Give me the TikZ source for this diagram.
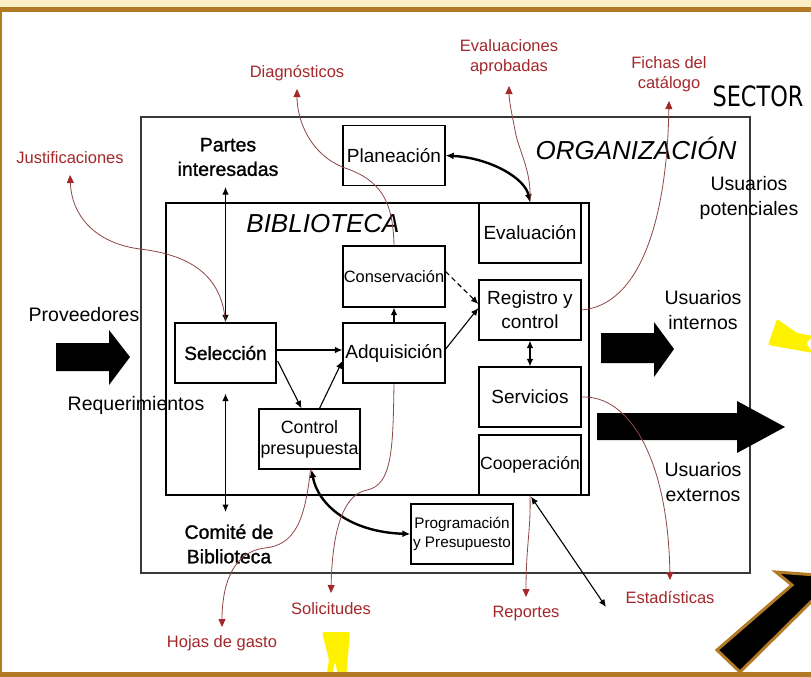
\documentclass[tikz,border=0pt]{standalone}
\usepackage{fontspec}
\usepackage{graphicx}
\setmainfont{Liberation Sans}
\newfontfamily\sbf{Liberation Sans}[FakeBold=1.2]
\newfontfamily\sectorfont{DejaVu Sans}
\usetikzlibrary{arrows.meta,calc}
\definecolor{brownb}{HTML}{B27A25}
\definecolor{creamb}{HTML}{FCEFC6}
\definecolor{redl}{HTML}{A4282B}
\definecolor{redc}{HTML}{8E4646}
\definecolor{orgc}{HTML}{383838}
\begin{document}
\begin{tikzpicture}[x=1pt,y=-1pt,
 box/.style={draw=black,line width=1.3pt,fill=white,minimum width=102pt,minimum height=60pt,inner sep=0pt,align=center,font=\fontsize{19}{24}\selectfont},
 lbl/.style={align=center,inner sep=0pt,font=\fontsize{19.5}{24.5}\selectfont},
 slbl/.style={align=center,inner sep=0pt,font=\sbf\fontsize{19.5}{24.5}\selectfont},
 rlbl/.style={align=center,inner sep=0pt,text=redl,font=\fontsize{16.5}{20.5}\selectfont},
 conn/.style={line width=1.1pt,-{Latex[length=7.5pt,width=6.5pt]}},
 biconn/.style={line width=1.1pt,{Latex[length=7.5pt,width=6.5pt]}-{Latex[length=7.5pt,width=6.5pt]}},
 thickbi/.style={line width=2.4pt,{Latex[length=8pt,width=7pt]}-{Latex[length=8pt,width=7pt]}},
 rcurve/.style={draw=redc,line width=0.8pt,-{Triangle[length=8pt,width=7pt,color=redl]}},
 bigarrow/.style={fill=black},
 yel/.style={fill=yellow,rounded corners=2pt},
]
\useasboundingbox (0,0) rectangle (811,677);
\clip (0,0) rectangle (811,677);
\fill[white] (0,0) rectangle (811,677);

% outer boxes
\draw[orgc,line width=1.3pt] (141,117) rectangle (750,573);
\draw[black,line width=1.3pt] (166,203) rectangle (589,495);

% big arrows
\fill[bigarrow] (56,343) -- (109,343) -- (109,330) -- (130,357) -- (109,385) -- (109,371) -- (56,371) -- cycle;
\fill[bigarrow] (601,333) -- (654,333) -- (654,322) -- (674,349) -- (654,377) -- (654,363) -- (601,363) -- cycle;
\fill[bigarrow] (597,413) -- (737,413) -- (737,401) -- (785,427) -- (737,453) -- (737,440) -- (597,440) -- cycle;

% yellow shapes
\fill[yel] (777,319) -- (797,333) -- (813,336) -- (806,343) -- (813,353) -- (768,345) -- cycle;
\fill[yel] (322,632) -- (350,632) -- (346,679) -- (339,679) -- (335,662) -- (331,679) -- (326,679) -- (329,660) -- cycle;

% brown-bordered arrow bottom right
\filldraw[draw=brownb,fill=black,line width=3pt,line join=miter] (717,650) -- (792,585) -- (776,572) -- (830,576) -- (830,583) -- (740,672) -- cycle;

% boxes
\node[box] (plan) at (394,155.5) {Planeación};
\node[box] (eval) at (530,233) {Evaluación};
\node[box,minimum height=61pt,font=\fontsize{16.4}{20}\selectfont] (cons) at (394,276.5) {Conservación};
\node[box] (reg) at (530,310) {Registro y\\control};
\node[box,minimum width=101pt,font=\sbf\fontsize{19}{24}\selectfont] (sel) at (225.5,353) {Selección};
\node[box] (adq) at (394,353) {Adquisición};
\node[box] (serv) at (530,397) {Servicios};
\node[box,font=\fontsize{17.6}{21}\selectfont] (coop) at (530,465) {Cooperación};
\node[box,minimum width=101pt,font=\fontsize{17.8}{21}\selectfont] (ctl) at (309.5,439) {Control\\presupuesta};
\node[box,font=\fontsize{15.3}{19}\selectfont] (prog) at (462,534) {Programación\\y Presupuesto};

% texts
\node[slbl] (pi) at (228,157) {Partes\\interesadas};
\node[slbl] (com) at (229,544) {Comité de\\Biblioteca};
\node[lbl,font=\itshape\fontsize{26}{30}\selectfont] (bibt) at (323,224) {BIBLIOTECA};
\node[lbl,font=\itshape\fontsize{26}{30}\selectfont] (orgt) at (636,148) {ORGANIZACIÓN};
\node[lbl,font=\sectorfont\fontsize{28}{30}\selectfont] (sector) at (758,96) {\scalebox{0.8}[1]{SECTOR}};
\node[lbl] (upot) at (749,198) {Usuarios\\potenciales};
\node[lbl] (uint) at (703,310) {Usuarios\\internos};
\node[lbl] (uext) at (703,482) {Usuarios\\externos};
\node[lbl] (prov) at (84,315) {Proveedores};
\node[lbl] (req) at (136,405) {Requerimientos};

% red labels
\node[rlbl] (jus) at (70,158) {Justificaciones};
\node[rlbl] (diag) at (297,73) {Diagnósticos};
\node[rlbl] (evap) at (509,57) {Evaluaciones\\aprobadas};
\node[rlbl] (fich) at (669,74) {Fichas del\\catálogo};
\node[rlbl] (hoj) at (222,643) {Hojas de gasto};
\node[rlbl] (sol) at (331,609) {Solicitudes};
\node[rlbl] (rep) at (526,614) {Reportes};
\node[rlbl] (est) at (670,597) {Estadísticas};

% black connectors
\draw[biconn] (sel.north) -- ($(pi.center)+(-2.5,30)$);
\draw[biconn] ($(sel.south)+(0,10)$) -- ($(com.center)+(-3.5,-32)$);
\draw[conn] ($(sel.east)+(0,-3)$) -- ($(adq.west)+(0,-3)$);
\draw[conn] ($(sel.east)+(1,8)$) -- ($(ctl.north)+(-8,0)$);
\draw[conn] ($(ctl.north)+(10,0)$) -- ($(adq.west)+(0,8)$);
\draw[conn] (adq.north) -- (cons.south);
\draw[conn,dash pattern=on 5pt off 3.5pt] ($(cons.east)+(0,-5)$) -- ($(reg.west)+(0,-6)$);
\draw[conn] ($(adq.east)+(0,-4)$) -- ($(reg.west)+(0,-2)$);
\draw[biconn] (reg.south) -- (serv.north);
\draw[thickbi] (plan.east) .. controls (490,158) and (525,178) .. (eval.north);
\draw[thickbi] ($(ctl.south)+(2,0)$) .. controls (318,505) and (350,532) .. (prog.west);
\coordinate (cfree) at (606,607);
\draw[biconn] ($(coop.south)+(1,1)$) -- (cfree);

% red curves
\draw[rcurve] (sel.north) .. controls (222,275) and (190,255) .. (140,249) .. controls (100,244) and (72,220) .. ($(jus.center)+(0,17)$);
\draw[rcurve] (cons.north) .. controls (393,200) and (380,180) .. (345,168) .. controls (310,155) and (297,120) .. ($(diag.center)+(0,16)$);
\draw[rcurve] (eval.north) .. controls (532,170) and (518,150) .. (515,130) .. controls (512,115) and (509,100) .. ($(evap.center)+(0,29)$);
\draw[rcurve] (reg.east) .. controls (640,305) and (667,220) .. ($(fich.center)+(0,27)$);
\draw[rcurve] (serv.east) .. controls (630,395) and (668,460) .. ($(est.center)+(0,-17)$);
\draw[rcurve] (coop.south) .. controls (531,530) and (526,545) .. ($(rep.center)+(0,-17)$);
\draw[rcurve] (adq.south) .. controls (393,450) and (392,485) .. (367,490) .. controls (340,495) and (332,540) .. ($(sol.center)+(0,-16)$);
\draw[rcurve] ($(ctl.south)+(1,0)$) .. controls (305,520) and (295,545) .. (265,548) .. controls (230,552) and (222,590) .. ($(hoj.center)+(0,-16)$);

% frame
\fill[creamb] (0,0) rectangle (811,7);
\fill[brownb] (0,7) rectangle (811,12);
\fill[brownb] (0,12) rectangle (2,677);
\fill[brownb] (0,672) rectangle (811,677);
\end{tikzpicture}
\end{document}
